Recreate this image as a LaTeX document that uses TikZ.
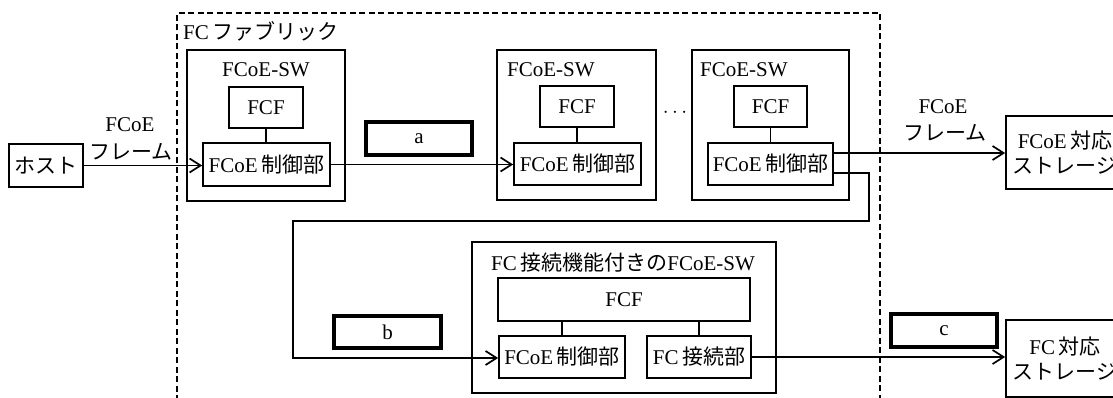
\documentclass[tikz,border=0pt]{standalone}
\usepackage{fontspec}
\setmainfont{Liberation Serif}
\newfontfamily\jpfont{Noto Sans CJK JP}
\newcommand\J[1]{{\jpfont #1}}
\usetikzlibrary{arrows.meta}
\tikzset{
  txt/.style={font=\fontsize{21}{25}\selectfont},
  box/.style={draw, line width=1.7pt, inner sep=0pt, txt},
  ansbox/.style={draw, line width=4pt, inner sep=0pt, txt},
  lbl/.style={inner sep=0pt, txt},
  link/.style={line width=1.7pt},
  arr/.style={line width=1.7pt, -{Straight Barb[length=11pt,width=14pt,line width=1.7pt]}},
  fabric/.style={draw, line width=1.6pt, dash pattern=on 6pt off 3.5pt}
}
\begin{document}
\begin{tikzpicture}[x=1pt,y=-1pt]
\useasboundingbox (0,0) rectangle (1113,398);
\clip (0,0) rectangle (1113,398);
\fill[white] (0,0) rectangle (1113,398);

% FC fabric (dashed)
\draw[fabric] (177,420) -- (177,13) -- (880,13) -- (880,420);
\node[lbl, anchor=west] (fablbl) at (183,31) {FC\,\J{ファブリック}};

% host
\node[box, minimum width=74pt, minimum height=43pt] (host) at (46,165.5) {\J{ホスト}};
\node[lbl] (lf1) at (130,125) {FCoE};
\node[lbl] (lf2) at (131,152) {\J{フレーム}};

% switch 1
\node[box, minimum width=158pt, minimum height=151pt] (sw1) at (266,125.5) {};
\node[lbl] (sw1l) at (266,70) {FCoE-SW};
\node[box, minimum width=74pt, minimum height=41pt] (fcf1) at (266,107.5) {FCF};
\node[box, minimum width=127pt, minimum height=43pt] (ctl1) at (266.5,164.5) {FCoE\,\J{制御部}};
\draw[link] (fcf1) -- (fcf1 |- ctl1.north);

% a
\node[ansbox, minimum width=106pt, minimum height=33pt] (a) at (419,138.5) {a};

% switch 2
\node[box, minimum width=159pt, minimum height=150pt] (sw2) at (576.5,125) {};
\node[lbl, anchor=west] (sw2l) at (507,70) {FCoE-SW};
\node[box, minimum width=74pt, minimum height=41pt] (fcf2) at (577,106.5) {FCF};
\node[box, minimum width=127pt, minimum height=42pt] (ctl2) at (577.5,164) {FCoE\,\J{制御部}};
\draw[link] (fcf2) -- (fcf2 |- ctl2.north);

\node[lbl] (dots) at (675,113) {$\cdots$};

% switch 3
\node[box, minimum width=157pt, minimum height=150pt] (sw3) at (770.5,125) {};
\node[lbl, anchor=west] (sw3l) at (700,70) {FCoE-SW};
\node[box, minimum width=73pt, minimum height=41pt] (fcf3) at (770.5,106.5) {FCF};
\node[box, minimum width=125pt, minimum height=42pt] (ctl3) at (770.5,164) {FCoE\,\J{制御部}};
\draw[link] (fcf3) -- (fcf3 |- ctl3.north);

% storage 1
\node[box, minimum width=118pt, minimum height=73pt, align=center] (st1) at (1065,152.5) {FCoE\,\J{対応}\\\J{ストレージ}};
\node[lbl] (rf1) at (943,107) {FCoE};
\node[lbl] (rf2) at (945,133) {\J{フレーム}};

% FC switch
\node[box, minimum width=304pt, minimum height=151pt] (fcsw) at (624,317.5) {};
\node[lbl] (fcswl) at (623,263) {FC\,\J{接続機能付きの}FCoE-SW};
\node[box, minimum width=252pt, minimum height=43pt] (fcfw) at (624,299.5) {FCF};
\node[box, minimum width=126pt, minimum height=42pt] (ctl4) at (562,357) {FCoE\,\J{制御部}};
\node[box, minimum width=104pt, minimum height=42pt] (fcc) at (699,357) {FC\,\J{接続部}};
\draw[link] (ctl4.north) -- (ctl4.north |- fcfw.south);
\draw[link] (fcc.north) -- (fcc.north |- fcfw.south);

% b, c
\node[ansbox, minimum width=107pt, minimum height=32pt] (b) at (387.5,332) {b};
\node[ansbox, minimum width=106pt, minimum height=33pt] (c) at (944,330.5) {c};

% storage 2
\node[box, minimum width=118pt, minimum height=77pt, align=center] (st2) at (1065,358.5) {FC\,\J{対応}\\\J{ストレージ}};

% connectors
\draw[arr] (host.east) -- (ctl1.west |- host.east);
\draw[arr] (ctl1.east) -- (ctl2.west |- ctl1.east);
\coordinate (o3) at (ctl3.east |- 0,153);
\draw[arr] (o3) -- (st1.west |- o3);
\coordinate (l0) at (ctl3.east |- 0,173);
\coordinate (l1) at (869,173);
\coordinate (l2) at (869,221);
\coordinate (l3) at (293,221);
\coordinate (l4) at (293,358);
\draw[arr] (l0) -- (l1) -- (l2) -- (l3) -- (l4) -- (ctl4.west |- l4);
\draw[arr] (fcc.east) -- (st2.west |- fcc.east);
\end{tikzpicture}
\end{document}
